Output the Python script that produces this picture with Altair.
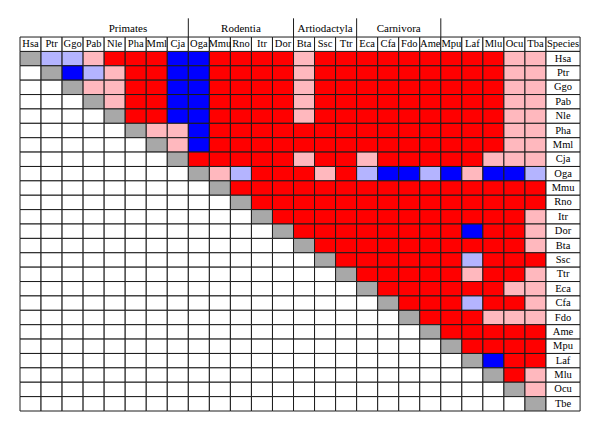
import altair as alt
import pandas as pd

# Column headers (species codes) and row labels
species_cols = ["Hsa", "Ptr", "Ggo", "Pab", "Nle", "Pha", "Mml", "Cja", "Oga", "Mmu",
                "Rno", "Itr", "Dor", "Bta", "Ssc", "Ttr", "Eca", "Cfa", "Fdo", "Ame",
                "Mpu", "Laf", "Mlu", "Ocu", "Tba"]
species_rows = ["Hsa", "Ptr", "Ggo", "Pab", "Nle", "Pha", "Mml", "Cja", "Oga", "Mmu",
                "Rno", "Itr", "Dor", "Bta", "Ssc", "Ttr", "Eca", "Cfa", "Fdo", "Ame",
                "Mpu", "Laf", "Mlu", "Ocu", "Tbe"]
last_header = "Species"

# Cell categories: R red, P pink, B blue, L light blue, G diagonal grey, W empty
matrix = [
    "GLLPRRRBBRRRRPRRRRRRRRRPP",
    "WGBLPRRBBRRRRPRRRRRRRRRPP",
    "WWGPPRRBBRRRRPRRRRRRRRRPP",
    "WWWGPRRBBRRRRPRRRRRRRRRPP",
    "WWWWGRRBBRRRRPRRRRRRRRRPP",
    "WWWWWGPPBRRRRRRRRRRRRRRPP",
    "WWWWWWGPBRRRRRRRRRRRRRRPP",
    "WWWWWWWGRRRRRPRRPRRRRRPPP",
    "WWWWWWWWGPLRRRPRLBBLBPBBL",
    "WWWWWWWWWGRRRRRRRRRRRRRRR",
    "WWWWWWWWWWGRRRRRRRRRRRRRR",
    "WWWWWWWWWWWGRRRRRRRRRRRRP",
    "WWWWWWWWWWWWGRRRRRRRRBRRP",
    "WWWWWWWWWWWWWGRRRRRRRRRRP",
    "WWWWWWWWWWWWWWGRRRRRRLRRR",
    "WWWWWWWWWWWWWWWGRRRRRPRRP",
    "WWWWWWWWWWWWWWWWGRRRRRRPP",
    "WWWWWWWWWWWWWWWWWGRRRLRRP",
    "WWWWWWWWWWWWWWWWWWGRRRPPP",
    "WWWWWWWWWWWWWWWWWWWGRRRRR",
    "WWWWWWWWWWWWWWWWWWWWGRRRR",
    "WWWWWWWWWWWWWWWWWWWWWGBRR",
    "WWWWWWWWWWWWWWWWWWWWWWGRP",
    "WWWWWWWWWWWWWWWWWWWWWWWGP",
    "WWWWWWWWWWWWWWWWWWWWWWWWG",
]

groups = ["Primates", "Rodentia", "Artiodactyla", "Carnivora"]
group_label_pos = [5.13, 10.5, 14.5, 18.0]
group_separators = [8, 13, 16, 20]

codes = ["R", "P", "B", "L", "G", "W"]
code_colors = ["#FF0000", "#FFB8BE", "#0000FF", "#B4B4FF", "#A8A8A8", "#FFFFFF"]

# ---- layout constants (not data) ----
SPECIES_W = 1.62
FONT = "Liberation Serif"

cells = []
for r, row in enumerate(matrix):
    for c, ch in enumerate(row):
        cells.append({"x": c, "x2": c + 1, "y": r, "y2": r + 1, "code": ch})
cells_df = pd.DataFrame(cells)

header = [{"x": c, "x2": c + 1, "y": -1, "y2": 0, "xm": c + 0.5, "ym": -0.5, "label": s}
          for c, s in enumerate(species_cols)]
header.append({"x": 25, "x2": 25 + SPECIES_W, "y": -1, "y2": 0,
               "xm": 25 + SPECIES_W / 2, "ym": -0.5, "label": last_header})
for r, s in enumerate(species_rows):
    header.append({"x": 25, "x2": 25 + SPECIES_W, "y": r, "y2": r + 1,
                   "xm": 25 + SPECIES_W / 2, "ym": r + 0.5, "label": s})
header_df = pd.DataFrame(header)

group_df = pd.DataFrame({"xm": group_label_pos, "ym": [-1.58] * len(groups), "label": groups})
sep_df = pd.DataFrame({"x": group_separators, "y": [-2.3] * 4, "y2": [-1] * 4})

xs = alt.Scale(domain=[0, 25], range=[12, 538], nice=False, zero=False)
ys = alt.Scale(domain=[0, 25], range=[43.4, 403], nice=False, zero=False)

cell_layer = alt.Chart(cells_df).mark_rect(stroke="#1c1c1c", strokeWidth=1).encode(
    x=alt.X("x:Q", scale=xs, axis=None),
    x2="x2:Q",
    y=alt.Y("y:Q", scale=ys, axis=None),
    y2="y2:Q",
    fill=alt.Fill("code:N", scale=alt.Scale(domain=codes, range=code_colors), legend=None),
)

head_rect = alt.Chart(header_df).mark_rect(stroke="#1c1c1c", strokeWidth=1, fill="white").encode(
    x=alt.X("x:Q", scale=xs, axis=None),
    x2="x2:Q",
    y=alt.Y("y:Q", scale=ys, axis=None),
    y2="y2:Q",
)

head_text = alt.Chart(header_df).mark_text(font=FONT, fontSize=10.5, color="black",
                                           baseline="middle", align="center").encode(
    x=alt.X("xm:Q", scale=xs, axis=None),
    y=alt.Y("ym:Q", scale=ys, axis=None),
    text="label:N",
)

group_text = alt.Chart(group_df).mark_text(font=FONT, fontSize=11, color="black",
                                           baseline="middle", align="center").encode(
    x=alt.X("xm:Q", scale=xs, axis=None),
    y=alt.Y("ym:Q", scale=ys, axis=None),
    text="label:N",
)

sep_layer = alt.Chart(sep_df).mark_rule(color="#1c1c1c", strokeWidth=1).encode(
    x=alt.X("x:Q", scale=xs, axis=None),
    y=alt.Y("y:Q", scale=ys, axis=None),
    y2="y2:Q",
)

chart = alt.layer(cell_layer, head_rect, head_text, group_text, sep_layer).properties(
    width=584, height=416, autosize=alt.AutoSizeParams(type="none"), padding=0
).configure_view(stroke=None)

chart.save("out.html", embed_options={"renderer": "svg", "actions": False})
